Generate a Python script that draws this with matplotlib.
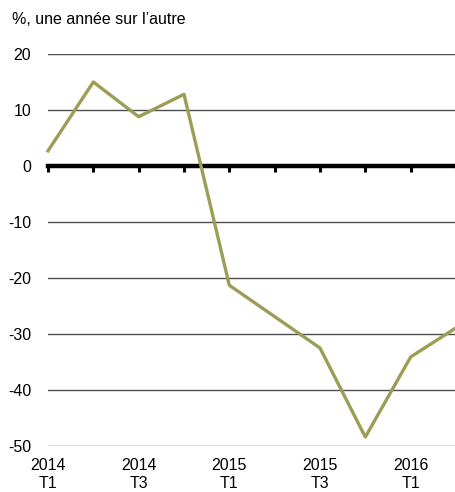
import matplotlib
matplotlib.use("Agg")
import matplotlib.pyplot as plt

plt.rcParams['font.family'] = ['Liberation Sans', 'DejaVu Sans']

# quarterly values, % year over year
quarters = ["2014\nT1", "", "2014\nT3", "", "2015\nT1", "", "2015\nT3", "", "2016\nT1", ""]
values = [2.7, 15.0, 8.8, 12.8, -21.3, -26.9, -32.5, -48.4, -34.1, -28.9]
yticks = [-50, -40, -30, -20, -10, 0, 10, 20]

fig = plt.figure(figsize=(4.56, 4.92), dpi=100)
ax = fig.add_axes([48 / 456, 46 / 492, 408 / 456, 392 / 492])

x = list(range(len(values)))

# gridlines
for v in yticks:
    if v != 0:
        ax.axhline(v, color='#4d4d4d', lw=1.0, zorder=1)

ax.plot(x, values, color='#9c9d56', lw=2.4, zorder=3, clip_on=False)

ax.set_xlim(0, len(values) - 1)
ax.set_ylim(-50, 20)
ax.set_yticks(yticks)
ax.set_yticklabels([str(v) for v in yticks])
ax.tick_params(axis='y', length=0, pad=12, labelsize=11.5)

# zero line carries the tick marks
for s in ['top', 'right', 'left']:
    ax.spines[s].set_visible(False)
ax.spines['bottom'].set_position(('data', 0))
ax.spines['bottom'].set_linewidth(3.2)
ax.spines['bottom'].set_zorder(2)
ax.set_xticks(x)
ax.set_xticklabels([])
ax.tick_params(axis='x', direction='out', length=4, width=2.2, color='black')

# category labels at bottom
sec = ax.secondary_xaxis('bottom')
sec.set_xticks(x)
sec.set_xticklabels(quarters)
sec.tick_params(length=0, pad=9, labelsize=11.5)
sec.spines['bottom'].set_visible(False)

fig.text(12 / 456, 1 - 20 / 492, "%, une année sur l’autre", fontsize=11.5,
         ha='left', va='center')

fig.savefig("out.png", dpi=100)
